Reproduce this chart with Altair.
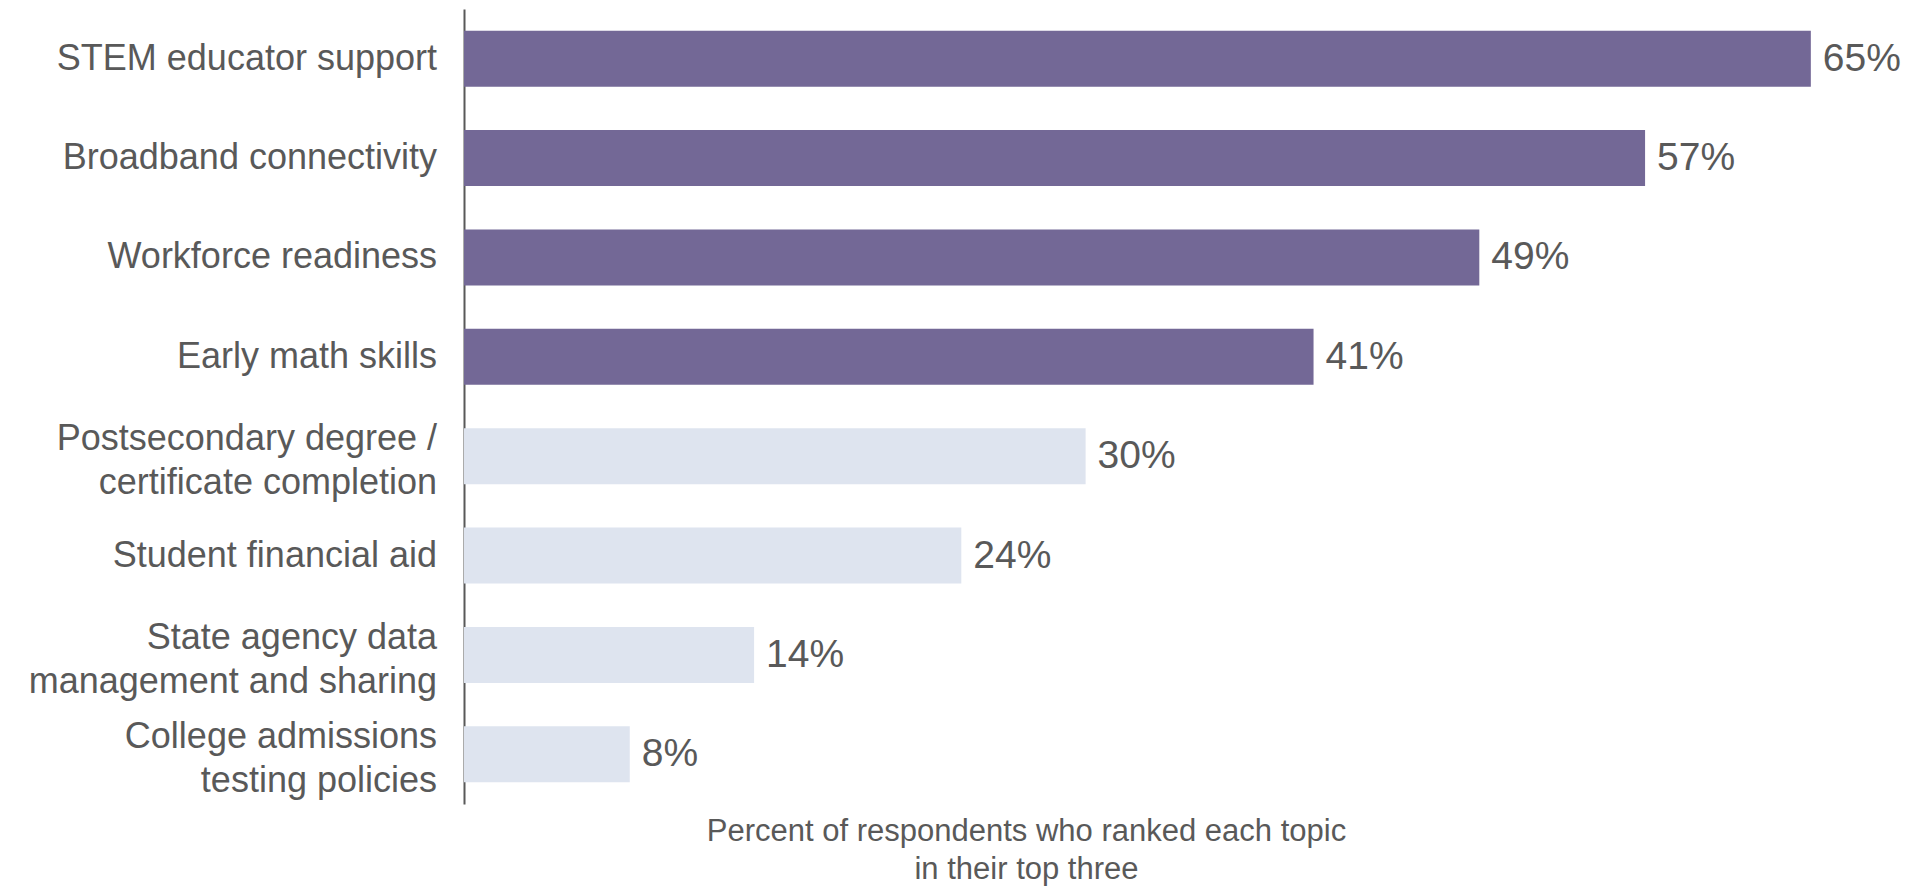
import altair as alt
import pandas as pd

topics = [
    "STEM educator support",
    "Broadband connectivity",
    "Workforce readiness",
    "Early math skills",
    "Postsecondary degree /|certificate completion",
    "Student financial aid",
    "State agency data|management and sharing",
    "College admissions|testing policies",
]
values = [65, 57, 49, 41, 30, 24, 14, 8]
highlight = [True, True, True, True, False, False, False, False]

df = pd.DataFrame({
    "topic": topics,
    "value": values,
    "highlight": ["top" if h else "other" for h in highlight],
    "label": [f"{v}%" for v in values],
    "line1": [t.split("|")[0] for t in topics],
    "line2": [t.split("|")[1] if "|" in t else "" for t in topics],
    "multi": ["|" in t for t in topics],
})

FONT = "Liberation Sans"
GREY = "#595959"
LABEL_SIZE = 36
LABEL_X = -27

y_enc = alt.Y(
    "topic:N",
    sort=topics,
    scale=alt.Scale(paddingInner=0.437, paddingOuter=0.2185),
    axis=alt.Axis(
        title=None,
        ticks=False,
        labels=False,
        domain=True,
        domainColor=GREY,
        domainWidth=2,
    ),
)

x_enc = alt.X(
    "value:Q",
    scale=alt.Scale(domain=[0, 68], nice=False),
    axis=alt.Axis(
        title=["Percent of respondents who ranked each topic", "in their top three"],
        titleFont=FONT,
        titleFontSize=31,
        titleFontWeight="normal",
        titleColor=GREY,
        titleLineHeight=38,
        titleAlign="center",
        titleBaseline="alphabetic",
        titleX=562,
        titleY=36,
        labels=False,
        ticks=False,
        domain=False,
        grid=False,
    ),
)

base = alt.Chart(df)

bars = base.mark_bar().encode(
    y=y_enc,
    x=x_enc,
    color=alt.Color(
        "highlight:N",
        scale=alt.Scale(domain=["top", "other"], range=["#736896", "#DEE4EF"]),
        legend=None,
    ),
)

text = base.mark_text(
    align="left", baseline="middle", dx=12, font=FONT, fontSize=39, color=GREY
).encode(
    y=alt.Y("topic:N", sort=topics),
    x=alt.X("value:Q"),
    text="label:N",
)

single = base.transform_filter("!datum.multi").mark_text(
    align="right", baseline="middle", font=FONT, fontSize=LABEL_SIZE, color=GREY
).encode(
    y=alt.Y("topic:N", sort=topics),
    x=alt.value(LABEL_X),
    text="line1:N",
)

first = base.transform_filter("datum.multi").mark_text(
    align="right", baseline="middle", dy=-17, font=FONT, fontSize=LABEL_SIZE, color=GREY
).encode(
    y=alt.Y("topic:N", sort=topics),
    x=alt.value(LABEL_X),
    text="line1:N",
)

second = base.transform_filter("datum.multi").mark_text(
    align="right", baseline="middle", dy=27, font=FONT, fontSize=LABEL_SIZE, color=GREY
).encode(
    y=alt.Y("topic:N", sort=topics),
    x=alt.value(LABEL_X),
    text="line2:N",
)

chart = (
    alt.layer(bars, text, single, first, second)
    .properties(
        width=1409,
        height=795,
        autosize=alt.AutoSizeParams(type="none"),
        padding={"left": 456, "top": 1, "right": 28, "bottom": 83},
    )
    .configure_view(stroke=None)
)

chart.save("out.html", embed_options={"renderer": "svg", "actions": False})
